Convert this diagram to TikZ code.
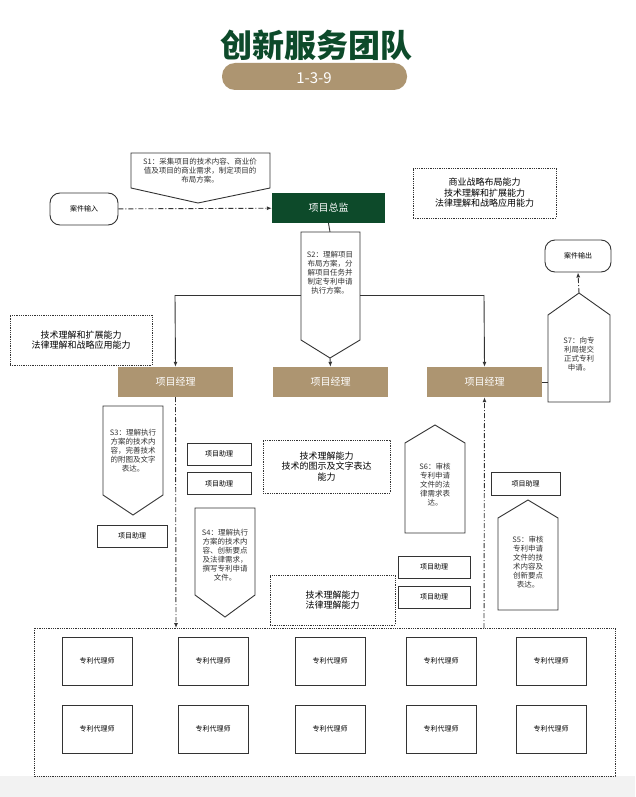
\documentclass[tikz,border=0pt]{standalone}
\usepackage{fontspec}
\usetikzlibrary{arrows.meta}
\setmainfont{Noto Sans CJK SC}
\definecolor{dg}{HTML}{0D4A2A}
\definecolor{tan}{HTML}{AD9571}
\definecolor{ln}{HTML}{333333}
\begin{document}
\begin{tikzpicture}[x=1pt,y=-1pt,
 box/.style={draw=ln,line width=0.9pt,font=\fontsize{7}{8}\selectfont},
 mgr/.style={fill=tan,text=white,font=\fontsize{10}{12}\selectfont},
 dot/.style={draw=ln,densely dotted,line width=0.8pt,align=center,font=\fontsize{9}{10.5}\selectfont},
 pent/.style={draw=ln,line width=0.9pt,fill=white},
 ptxt/.style={align=center,font=\fontsize{7.5}{9}\selectfont,text=ln},
 dd/.style={draw=ln,line width=0.9pt,dash pattern=on 5pt off 2pt on 1pt off 2pt},
 arr/.style={-{Latex[length=5pt,width=4pt]}},
 sol/.style={draw=ln,line width=0.9pt}]
\useasboundingbox (0,0) rectangle (635,797);
\fill[white] (0,0) rectangle (635,797);
\fill[black!5] (0,776) rectangle (635,797);
% title
\fill[tan,rounded corners=13pt] (222,63) rectangle (407,90);
\node[font=\fontsize{32}{34}\selectfont\bfseries,text=dg] (title) at (316,45) {创新服务团队};
\node[text=white,font=\fontsize{15}{16}\selectfont] (num) at (314,78) {1-3-9};
% nodes
\node[box,rounded corners=10pt,minimum width=68,minimum height=32] (in) at (84,209) {案件输入};
\node[fill=dg,text=white,minimum width=113,minimum height=30,font=\fontsize{10}{12}\selectfont] (dir) at (328.5,208) {项目总监};
\node[box,rounded corners=10pt,minimum width=66,minimum height=32] (out) at (578,256) {案件输出};
\node[mgr,minimum width=115,minimum height=30] (m1) at (175.5,382) {项目经理};
\node[mgr,minimum width=115,minimum height=30] (m2) at (330.5,382) {项目经理};
\node[mgr,minimum width=115,minimum height=30] (m3) at (484.5,382) {项目经理};
\node[dot,minimum width=143,minimum height=50] (c1) at (484.5,193) {商业战略布局能力\\技术理解和扩展能力\\法律理解和战略应用能力};
\node[dot,minimum width=142,minimum height=50] (c2) at (81,340) {技术理解和扩展能力\\法律理解和战略应用能力};
\node[dot,minimum width=127,minimum height=53] (c3) at (326.5,466.5) {技术理解能力\\技术的图示及文字表达\\能力};
\node[dot,minimum width=125,minimum height=50] (c4) at (332.5,600) {技术理解能力\\法律理解能力};
% S1
\draw[pent] (131,153) -- (270,153) -- (270,188) -- (198,203) -- (131,188) -- cycle;
\node[ptxt] (s1) at (200,171) {S1：采集项目的技术内容、商业价\\值及项目的商业需求，制定项目的\\布局方案。};
\draw[dd,arr] (in) -- (dir);
% S2
\draw[sol] (dir.south) -- (330,232);
\draw[pent] (301,232) -- (360,232) -- (360,340) -- (330,358) -- (301,340) -- cycle;
\node[ptxt] (s2) at (330,273) {S2：理解项目\\布局方案，分\\解项目任务并\\制定专利申请\\执行方案。};
\coordinate (h1) at (175,295); \coordinate (h2) at (484,295);
\draw[sol] (301,295) -- (h1); \draw[sol,arr] (h1) -- (m1.north);
\draw[sol] (360,295) -- (h2); \draw[sol,arr] (h2) -- (m3.north);
\coordinate (t2) at (330,358);
\draw[dd,arr] (t2) -- (m2.north);
% S7
\draw[pent] (548,315) -- (579,293) -- (610,315) -- (610,402) -- (548,402) -- cycle;
\node[ptxt] (s7) at (579,354) {S7：向专\\利局提交\\正式专利\\申请。};
\draw[sol] (m3.east) -- (548,382);
\coordinate (t7) at (579,293);
\draw[dd,arr] (t7) -- (out.south);
% big box
\draw[ln,densely dotted,line width=0.8pt] (34,628) rectangle (615,776);
\coordinate (b1) at (176,628); \coordinate (b3) at (484,628);
\draw[dd,arr] (m1.south) -- (b1);
\draw[dd,arr] (b3) -- (m3.south);
% S3
\draw[pent] (103,406) -- (163,406) -- (163,495) -- (133,515) -- (103,495) -- cycle;
\node[ptxt] (s3) at (133,451) {S3：理解执行\\方案的技术内\\容，完善技术\\的附图及文字\\表达。};
\node[box,minimum width=64,minimum height=22] (a1) at (219,454) {项目助理};
\node[box,minimum width=64,minimum height=22] (a2) at (219,483.5) {项目助理};
\node[box,minimum width=70,minimum height=22] (a3) at (132,536) {项目助理};
% S4
\draw[pent] (195,508) -- (255,508) -- (255,595) -- (225,617) -- (195,595) -- cycle;
\node[ptxt] (s4) at (225,555) {S4：理解执行\\方案的技术内\\容、创新要点\\及法律需求，\\撰写专利申请\\文件。};
% S6
\draw[pent] (405,443) -- (435,425) -- (465,443) -- (465,533) -- (405,533) -- cycle;
\node[ptxt] (s6) at (435,485) {S6：审核\\专利申请\\文件的法\\律需求表\\达。};
\node[box,minimum width=72,minimum height=22] (a4) at (434,567) {项目助理};
\node[box,minimum width=72,minimum height=22] (a5) at (434,597) {项目助理};
\node[box,minimum width=69,minimum height=23] (a6) at (525.5,483.5) {项目助理};
% S5
\draw[pent] (498,518) -- (528,500) -- (558,518) -- (558,610) -- (498,610) -- cycle;
\node[ptxt] (s5) at (528,562) {S5：审核\\专利申请\\文件的技\\术内容及\\创新要点\\表达。};
% agents
\foreach \x [count=\i] in {97,213,330,441,551}{
 \node[box,minimum width=70,minimum height=48] (p\i) at (\x,661) {专利代理师};
 \node[box,minimum width=70,minimum height=48] (q\i) at (\x,729) {专利代理师};
}
\end{tikzpicture}
\end{document}
